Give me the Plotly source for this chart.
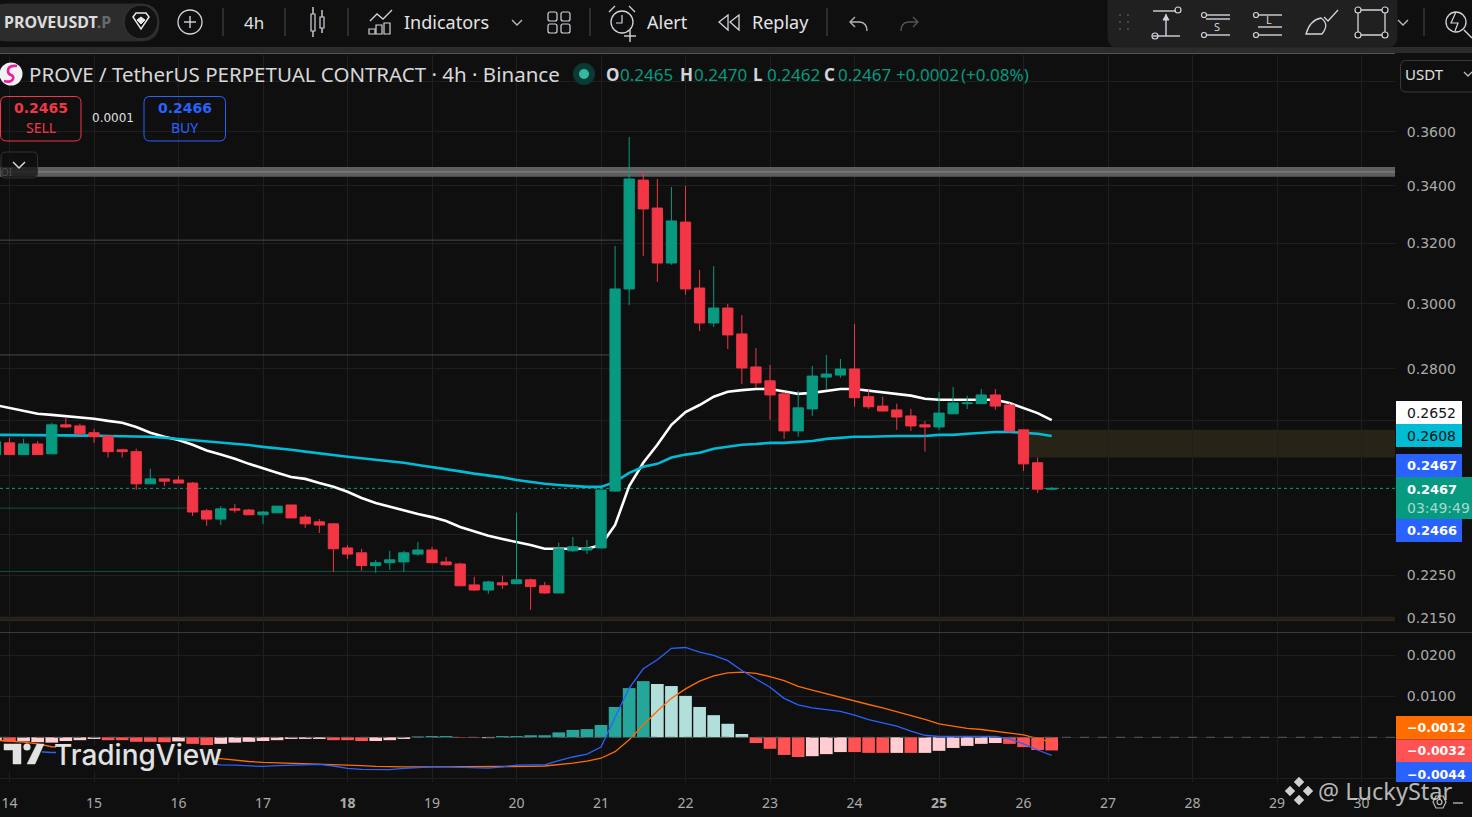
import re
import plotly.graph_objects as go

W, H = 1472, 817
BG = "#0f0f0f"
GRID = "#1f1f1f"
UP = "#089981"
DOWN = "#F23645"
FONT = "Noto Sans"
NUMF = "DejaVu Sans"

# ---------- data ----------
open_ = [.2557,.2589,.2557,.2586,.2559,.2639,.2636,.2617,.2608,.2570,.2565,.2479,.2492,.2489,.2481,.2409,.2388,.2414,.2411,.2399,.2404,.2424,
         .2393,.2381,.2376,.2316,.2304,.2273,.2280,.2282,.2301,.2311,.2282,.2277,.2227,.2215,.2232,.2230,.2239,.2225,.2208,.2309,.2311,.2316,
         .2460,.3048,.3421,.3321,.3133,.3272,.3051,.2940,.2987,.2906,.2806,.2765,.2727,.2622,.2684,.2776,.2782,.2800,.2719,.2692,.2681,.2664,
         .2639,.2633,.2670,.2699,.2699,.2724,.2695,.2625,.2535,.2465]
high = [.2592,.2603,.2600,.2594,.2645,.2659,.2642,.2628,.2608,.2573,.2573,.2519,.2492,.2500,.2484,.2414,.2421,.2427,.2414,.2409,.2421,.2424,
        .2399,.2388,.2378,.2323,.2314,.2287,.2309,.2309,.2331,.2319,.2294,.2280,.2246,.2237,.2249,.2404,.2242,.2234,.2329,.2343,.2336,.2463,
        .3190,.3581,.3454,.3425,.3396,.3400,.3110,.3123,.3000,.2965,.2863,.2812,.2733,.2736,.2809,.2842,.2830,.2937,.2738,.2719,.2699,.2684,
        .2650,.2733,.2747,.2722,.2741,.2741,.2701,.2625,.2549,.2470]
low = [.2557,.2557,.2557,.2557,.2559,.2630,.2611,.2589,.2549,.2549,.2463,.2479,.2473,.2481,.2396,.2371,.2373,.2404,.2399,.2376,.2404,.2391,
       .2366,.2353,.2258,.2289,.2261,.2256,.2263,.2258,.2297,.2280,.2273,.2225,.2213,.2206,.2218,.2230,.2169,.2206,.2208,.2306,.2301,.2316,
       .2458,.2996,.3156,.3071,.3127,.3029,.2915,.2927,.2860,.2756,.2744,.2653,.2600,.2606,.2664,.2741,.2774,.2690,.2684,.2678,.2625,.2622,
       .2565,.2625,.2670,.2684,.2699,.2681,.2617,.2513,.2455,.2462]
close = [.2592,.2557,.2586,.2557,.2639,.2633,.2614,.2606,.2565,.2565,.2479,.2492,.2486,.2481,.2406,.2388,.2414,.2411,.2399,.2406,.2421,.2391,
         .2376,.2373,.2314,.2301,.2273,.2280,.2287,.2304,.2311,.2280,.2275,.2225,.2215,.2234,.2227,.2239,.2223,.2208,.2314,.2319,.2316,.2463,
         .3048,.3425,.3318,.3133,.3276,.3048,.2940,.2987,.2903,.2803,.2759,.2724,.2622,.2687,.2779,.2785,.2800,.2716,.2690,.2678,.2661,.2636,
         .2633,.2672,.2701,.2701,.2724,.2692,.2622,.2532,.2465,.2467]
ema_white = [.2695,.2687,.2678,.2670,.2667,.2664,.2659,.2656,.2650,.2645,.2633,.2617,.2606,.2597,.2584,.2568,.2557,.2546,.2532,.2521,.2508,.2497,
             .2492,.2481,.2471,.2458,.2442,.2429,.2419,.2409,.2401,.2393,.2383,.2368,.2356,.2346,.2338,.2331,.2323,.2314,.2314,.2314,.2314,.2323,
             .2373,.2473,.2535,.2584,.2639,.2675,.2695,.2719,.2733,.2738,.2741,.2741,.2733,.2727,.2730,.2736,.2741,.2741,.2736,.2733,.2727,.2722,
             .2713,.2710,.2710,.2710,.2710,.2710,.2701,.2687,.2672,.2652]
ema_cyan = [.2611,.2611,.2611,.2611,.2611,.2611,.2610,.2609,.2608,.2608,.2608,.2606,.2603,.2600,.2597,.2594,.2589,.2586,.2583,.2578,.2575,.2570,
            .2565,.2561,.2555,.2551,.2547,.2543,.2540,.2535,.2529,.2524,.2517,.2512,.2506,.2501,.2496,.2489,.2484,.2479,.2476,.2473,.2471,.2471,
            .2484,.2508,.2524,.2532,.2549,.2557,.2562,.2573,.2578,.2584,.2586,.2589,.2589,.2592,.2594,.2600,.2603,.2606,.2606,.2608,.2608,.2608,
            .2608,.2611,.2611,.2614,.2617,.2619,.2619,.2617,.2614,.2608]
macd_hist = [-.0009,-.0010,-.0010,-.0012,-.0013,-.0009,-.0007,-.0004,-.0007,-.0007,-.0011,-.0011,-.0012,-.0010,-.0016,-.0019,-.0016,-.0013,-.0011,
             -.0009,-.0007,-.0004,-.0004,-.0004,-.0007,-.0007,-.0009,-.0009,-.0007,-.0004,.0002,.0003,.0003,-.0001,-.0001,-.0002,.0003,.0003,.0005,
             .0005,.0012,.0018,.0020,.0030,.0074,.0120,.0137,.0130,.0125,.0101,.0074,.0054,.0033,.0008,-.0014,-.0028,-.0043,-.0048,-.0046,-.0041,
             -.0036,-.0036,-.0038,-.0038,-.0038,-.0038,-.0038,-.0033,-.0026,-.0021,-.0016,-.0014,-.0016,-.0024,-.0031,-.0032]
hist_kind = list("PRPPPPPPRRRRRPRRPPPPPPPPRRRPPPGGGRRPGGGGGGGGGGGLLLLLLLRRRRPPPRRRPRPPPPPPRRRR"[:76])
macd_blue = [-.0029,-.0031,-.0033,-.0035,-.0037,-.0037,-.0040,-.0043,-.0046,-.0049,-.0051,-.0054,-.0051,-.0055,-.0060,-.0064,-.0067,-.0068,-.0070,
             -.0071,-.0069,-.0068,-.0067,-.0066,-.0070,-.0076,-.0078,-.0079,-.0079,-.0076,-.0074,-.0072,-.0072,-.0073,-.0074,-.0075,-.0072,-.0068,
             -.0067,-.0067,-.0057,-.0048,-.0041,-.0024,.0049,.0120,.0167,.0189,.0217,.0219,.0208,.0200,.0187,.0163,.0142,.0122,.0095,.0079,.0072,
             .0067,.0063,.0054,.0043,.0035,.0027,.0015,.0005,.0002,.0002,.0002,.0003,.0002,-.0004,-.0016,-.0031,-.0044]
macd_orange = [-.0007,-.0009,-.0012,-.0016,-.0023,-.0024,-.0025,-.0027,-.0028,-.0029,-.0031,-.0034,-.0038,-.0042,-.0046,-.0049,-.0052,-.0056,-.0059,
               -.0061,-.0062,-.0063,-.0064,-.0065,-.0066,-.0067,-.0069,-.0071,-.0072,-.0072,-.0072,-.0072,-.0072,-.0072,-.0072,-.0072,-.0072,-.0072,
               -.0071,-.0070,-.0067,-.0063,-.0058,-.0051,-.0035,-.0006,.0030,.0064,.0095,.0118,.0137,.0150,.0157,.0159,.0156,.0148,.0138,.0124,.0115,
               .0106,.0097,.0089,.0080,.0072,.0063,.0054,.0044,.0033,.0027,.0022,.0019,.0015,.0011,.0006,-.0003,-.0012]
day_ticks = list(range(14, 31))
day_labels = ["14","15","16","17","<b>18</b>","19","20","21","22","23","24","<b>25</b>","26","27","28","29","30"]
price_ticks = [.38,.36,.34,.32,.30,.28,.265,.25,.235,.225,.215]
price_labels = ["","0.3600","0.3400","0.3200","0.3000","0.2800","","","","0.2250","0.2150"]
macd_ticks = [.02,.01,0,-.01]
macd_labels = ["0.0200","0.0100","",""]
last_price = .2467
resist_band = (.3433, .3469)
supply_zone = (.2549, .2625)
support_band = (.2143, .2153)
level_lines = [(.3210, 21.25, "#4a4a4a"), (.2842, 21.1, "#4a4a4a"), (.2416, 16.1, "#0e5048"), (.2259, 19.25, "#0e5048")]

candle_x = [14 + (i - 1) / 6 for i in range(len(open_))]
x_lo, x_hi = 13.8876, 30.396
price_lo, price_hi = -.67397, -.40824
macd_lo, macd_hi = -.0109, .02568

COL = {"R": "#FF5252", "P": "#FFCDD2", "G": "#26A69A", "L": "#B2DFDB"}
px_x = lambda x: x / W
px_y = lambda y: 1 - y / H

shapes, notes = [], []

def line(x0, y0, x1, y1, c="#d1d4dc", w=1.4, layer="above", dash=None):
    shapes.append(dict(type="line", xref="paper", yref="paper", x0=px_x(x0), y0=px_y(y0), x1=px_x(x1), y1=px_y(y1),
                       line=dict(color=c, width=w, dash=dash or "solid"), layer=layer))

def rect(x0, y0, x1, y1, fill, c=None, w=0, layer="above"):
    shapes.append(dict(type="rect", xref="paper", yref="paper", x0=px_x(x0), y0=px_y(y0), x1=px_x(x1), y1=px_y(y1),
                       fillcolor=fill, line=dict(color=c or "rgba(0,0,0,0)", width=w), layer=layer))

def circ(cx, cy, r, fill="rgba(0,0,0,0)", c=None, w=1.4):
    shapes.append(dict(type="circle", xref="paper", yref="paper", x0=px_x(cx - r), y0=px_y(cy - r), x1=px_x(cx + r), y1=px_y(cy + r),
                       fillcolor=fill, line=dict(color=c or "rgba(0,0,0,0)", width=w if c else 0), layer="above"))

def path(d, c="#d1d4dc", w=1.4, fill="rgba(0,0,0,0)"):
    toks = re.findall(r"[A-Za-z]|-?[\d.]+", d)
    out, isx = [], True
    for t in toks:
        if t.isalpha():
            out.append(t); isx = True
        else:
            v = float(t)
            out.append(f"{px_x(v):.5f}" if isx else f"{px_y(v):.5f}")
            isx = not isx
    shapes.append(dict(type="path", xref="paper", yref="paper", path=" ".join(out), fillcolor=fill,
                       line=dict(color=c, width=w), layer="above"))

def rrect(x0, y0, x1, y1, r, c, w=1, fill="rgba(0,0,0,0)"):
    path(f"M {x0+r} {y0} L {x1-r} {y0} Q {x1} {y0} {x1} {y0+r} L {x1} {y1-r} Q {x1} {y1} {x1-r} {y1} "
         f"L {x0+r} {y1} Q {x0} {y1} {x0} {y1-r} L {x0} {y0+r} Q {x0} {y0} {x0+r} {y0} Z", c, w, fill)

def txt(x, y, s, size=14, c="#d1d4dc", anchor="left", font=FONT, weight="normal"):
    notes.append(dict(xref="paper", yref="paper", x=px_x(x), y=px_y(y), text=s, showarrow=False, xanchor=anchor, yanchor="middle",
                      font=dict(size=size, color=c, family=font, weight=weight), borderpad=0, borderwidth=0))

# ---------- price-level drawings (on the axes) ----------
def band(lo, hi, x0, x1, fill, layer="below"):
    shapes.append(dict(type="rect", xref="x", yref="y", x0=x0, x1=x1, y0=lo, y1=hi, fillcolor=fill, line=dict(width=0), layer=layer))

band(*resist_band, x_lo, x_hi, "#5e5e5e", "between")
shapes.append(dict(type="line", xref="x", yref="y", x0=x_lo, x1=x_hi, y0=.3451, y1=.3451, line=dict(color="#8a8a8a", width=1), layer="between"))
band(*supply_zone, 26.05, x_hi, "#282317")
band(*support_band, x_lo, x_hi, "#2a2518")
for val, end, colr in level_lines:
    shapes.append(dict(type="line", xref="x", yref="y", x0=x_lo, x1=end, y0=val, y1=val, line=dict(color=colr, width=1), layer="between"))
shapes.append(dict(type="line", xref="x", yref="y", x0=x_lo, x1=x_hi, y0=last_price, y1=last_price,
                   line=dict(color=UP, width=1, dash="dot"), layer="between"))
shapes.append(dict(type="line", xref="x2", yref="y2", x0=x_lo, x1=x_hi, y0=0, y1=0, line=dict(color="#5a5a5a", width=1, dash="dash"), layer="above"))

# ---------- chrome ----------
rect(0, 47, W, 53, "#2b2b2b")
line(0, 53.5, 1395, 53.5, "#555555", 1)
line(0, 632.5, W, 632.5, "#3a3a3a", 1)
rrect(-12, 4, 159, 41, 18, "#2c2c2c", 1, "#2c2c2c")
circ(141, 22, 17, "#121212", "#3a3a3a", 1)
path("M 133 17 L 136 13 L 146 13 L 149 17 L 141 29 Z", "#e8e8e8", 1.5)
path("M 141 17 L 145 20 L 141 24 L 137 20 Z", "#e8e8e8", 1, "#e8e8e8")
txt(4, 22, "<b>PROVEUSDT</b><span style='color:#6a6a6a'><b>.P</b></span>", 16, "#dcdcdc")
circ(190, 22, 12, c="#d1d4dc", w=1.3)
line(184, 22, 196, 22); line(190, 16, 190, 28)
for sx in (223, 285, 348, 590, 827):
    line(sx, 8, sx, 36, "#3f3f3f", 1.3)
txt(254, 22, "4h", 17, "#e0e0e0", "center")
rect(311, 14, 315, 31, "rgba(0,0,0,0)", "#d1d4dc", 1.2); line(313, 7, 313, 14); line(313, 31, 313, 37)
rect(320, 17, 324, 28, "rgba(0,0,0,0)", "#d1d4dc", 1.2); line(322, 10, 322, 17); line(322, 28, 322, 33)
path("M 370 21 L 377 14 L 383 19 L 392 10", "#d1d4dc", 1.3)
for bx, by in ((369, 29), (376, 25), (384, 23)):
    rect(bx, by, bx + 6, 34, "rgba(0,0,0,0)", "#d1d4dc", 1.2)
txt(404, 22, "Indicators", 18, "#e4e4e4")
path("M 512 20 L 517 25 L 522 20", "#bdbdbd", 1.3)
for qx, qy in ((548, 12), (561, 12), (548, 24), (561, 24)):
    rrect(qx, qy, qx + 9, qy + 9, 2, "#d1d4dc", 1.2)
circ(622, 22, 11, c="#d1d4dc", w=1.3)
path("M 622 15 L 622 23 L 616 23", "#d1d4dc", 1.2)
path("M 609 12 L 615 6", "#d1d4dc", 1.2); path("M 635 12 L 629 6", "#d1d4dc", 1.2)
line(630, 30, 630, 42); line(624, 36, 636, 36)
txt(647, 22, "Alert", 18, "#e4e4e4")
path("M 728 15 L 719 22 L 728 30 Z", "#d1d4dc", 1.3); path("M 739 15 L 730 22 L 739 30 Z", "#d1d4dc", 1.3)
txt(752, 22, "Replay", 18, "#e4e4e4")
path("M 855 17 L 850 22 L 855 27", "#b5b5b5", 1.4); path("M 850 22 L 860 22 Q 867 23 867 31", "#b5b5b5", 1.4)
path("M 913 17 L 918 22 L 913 27", "#555555", 1.4); path("M 918 22 L 908 22 Q 901 23 901 31", "#555555", 1.4)
rrect(1108, -10, 1397, 47, 10, "#202020", 1, "#202020")
for gy in (15, 22, 29):
    line(1119, gy, 1121, gy, "#555555", 1.5); line(1127, gy, 1129, gy, "#555555", 1.5)
line(1153, 11, 1176, 11); circ(1178, 10, 3, c="#d1d4dc", w=1.2); line(1153, 36, 1180, 36); circ(1155, 36, 3, c="#d1d4dc", w=1.2)
line(1166, 14, 1166, 36); path("M 1163 20 L 1166 15 L 1169 20 Z", "#d1d4dc", 1, "#d1d4dc")
for lx in (1204, 1256):
    line(lx + 3, 15, lx + 26, 15); circ(lx, 15, 2.5, c="#d1d4dc", w=1.2)
    line(lx + 3, 35, lx + 26, 35); circ(lx, 35, 2.5, c="#d1d4dc", w=1.2)
line(1206, 19, 1230, 19); line(1258, 27, 1282, 27)
txt(1217, 27, "S", 11, "#d1d4dc", "center"); txt(1269, 20, "L", 11, "#d1d4dc", "center")
path("M 1306 34 Q 1310 20 1321 18 Q 1330 24 1322 34 Z", "#d1d4dc", 1.3)
path("M 1324 17 L 1328 21 L 1338 10", "#d1d4dc", 1.3)
rect(1358, 10, 1385, 35, "rgba(0,0,0,0)", "#d1d4dc", 1.3)
for cx_, cy_ in ((1358, 10), (1385, 10), (1358, 35), (1385, 35)):
    circ(cx_, cy_, 3, BG, "#d1d4dc", 1.2)
path("M 1398 20 L 1403 25 L 1408 20", "#bdbdbd", 1.3)
line(1424, 8, 1424, 36, "#3f3f3f", 1.2)
circ(1456, 22, 10, c="#d1d4dc", w=1.3); path("M 1456 12 L 1451 23 L 1458 23 L 1455 31", "#d1d4dc", 1.2); line(1464, 30, 1472, 38)

circ(11, 74, 11.5, "#f2f2f2")
path("M 17 66 Q 8 65 8 71 Q 8 74 11 75 Q 14 76 13 79 Q 11 83 4 81", "#e91e9c", 2.6)
txt(29, 74, "PROVE / TetherUS PERPETUAL CONTRACT · 4h · Binance", 20.5, "#d8d8d8")
circ(584, 74, 11, "#0b3a34"); circ(584, 74, 5, "#35b8a0")
for lx, s, dx in ((606, "O", "0.2465"), (680, "H", "0.2470"), (753, "L", "0.2462"), (824, "C", "0.2467")):
    txt(lx, 74, f"<b>{s}</b>", 17, "#d1d4dc"); txt(lx + 14, 74, dx, 17, UP)
txt(896, 74, "+0.0002", 17, UP); txt(961, 74, "(+0.08%)", 17, UP)
rrect(0.5, 96.5, 81, 141, 6, DOWN, 1); txt(41, 108, "<b>0.2465</b>", 14, DOWN, "center", NUMF); txt(41, 128, "SELL", 14, DOWN, "center")
rrect(144, 96.5, 225.5, 141, 6, "#2962FF", 1); txt(185, 108, "<b>0.2466</b>", 14, "#2962FF", "center", NUMF); txt(185, 128, "BUY", 14, "#2962FF", "center")
txt(113, 118, "0.0001", 12, "#e0e0e0", "center", NUMF)
rrect(1400.5, 60.5, 1480, 92, 6, "#3a3a3a", 1)
txt(1405, 74, "USDT", 15, "#e0e0e0")
path("M 1464 72 L 1468 76 L 1472 72", "#bdbdbd", 1.3)
rrect(1, 152, 37.5, 178, 5, "#333333", 1, "rgba(15,15,15,0.72)")
path("M 13 162 L 19 168 L 25 162", "#d8d8d8", 1.5)
txt(1, 172, "OI", 10, "#4c4c4c")

# price tags
tags = [(401, 424, "#FFFFFF", "0.2652", "#131313", 1462, 14, False), (424, 447, "#00BCD4", "0.2608", "#131313", 1462, 14, False),
        (454, 477, "#2962FF", "0.2467", "#FFFFFF", 1462, 13, True), (477, 519, UP, "0.2467", "#FFFFFF", 1472, 13, True),
        (519, 542, "#2962FF", "0.2466", "#FFFFFF", 1462, 13, True), (716, 739.5, "#FF6D00", "−0.0012", "#FFFFFF", 1472, 12.5, True),
        (739.5, 762, "#FF5252", "−0.0032", "#FFFFFF", 1472, 12.5, True), (762, 782, "#2962FF", "−0.0044", "#FFFFFF", 1472, 12.5, True)]
for y0, y1, fill, s, fc, xr, fs, bold in tags:
    rect(1396, y0, xr, y1, fill)
    ty = 489.5 if s == "0.2467" and fill == UP else (774 if s == "−0.0044" else (y0 + y1) / 2)
    txt(1407, ty, f"<b>{s}</b>" if bold else s, fs, fc, font=NUMF)
txt(1407, 508, "03:49:49", 14, "#a8d8cc", font=NUMF)

# watermark (the mark hides the indicator lines behind it)
rect(0, 746, 42, 772, BG)
rect(56, 746, 216, 772, BG)
path("M 4 744 L 21 744 L 21 764 L 13 764 L 13 750 L 4 750 Z", "#e2e2e2", 0.5, "#e2e2e2")
circ(27, 747, 3.6, "#e2e2e2")
path("M 37 744 L 44 744 L 35 764 L 27 764 Z", "#e2e2e2", 0.5, "#e2e2e2")
txt(54, 755, "TradingView", 28, "#e2e2e2", font="Inter", weight=500)
for dx_, dy_ in ((0, -9), (0, 9), (-9, 0), (9, 0)):
    sz = 5
    path(f"M {1299+dx_} {791+dy_-sz} L {1299+dx_+sz} {791+dy_} L {1299+dx_} {791+dy_+sz} L {1299+dx_-sz} {791+dy_} Z", "#d0d0d0", 0.4, "#d0d0d0")
txt(1318, 791, "@ LuckyStar", 23.5, "rgba(215,215,215,0.85)")
path("M 1433 802 L 1436 796 L 1443 796 L 1446 802 L 1443 808 L 1436 808 Z", "#bdbdbd", 1.2)
circ(1439.5, 802, 2.5, c="#bdbdbd", w=1.2)
line(1453, 803, 1463, 803, "#bdbdbd", 1.3)

# ---------- traces ----------
fig = go.Figure()
fig.add_trace(go.Scatter(x=candle_x, y=ema_white, mode="lines", line=dict(color="#FFFFFF", width=2.6), xaxis="x", yaxis="y", hoverinfo="skip"))
fig.add_trace(go.Scatter(x=candle_x, y=ema_cyan, mode="lines", line=dict(color="#00BCD4", width=2.6), xaxis="x", yaxis="y", hoverinfo="skip"))
fig.add_trace(go.Candlestick(x=candle_x, open=open_, high=high, low=low, close=close, xaxis="x3", yaxis="y3", whiskerwidth=0,
                             increasing=dict(line=dict(color=UP, width=1), fillcolor=UP),
                             decreasing=dict(line=dict(color=DOWN, width=1), fillcolor=DOWN), hoverinfo="skip"))
fig.add_trace(go.Bar(x=candle_x, y=macd_hist, marker=dict(color=[COL[k] for k in hist_kind], line=dict(width=0)), xaxis="x2", yaxis="y2", hoverinfo="skip"))
fig.add_trace(go.Scatter(x=candle_x, y=macd_orange, mode="lines", line=dict(color="#FF6D00", width=1.3), xaxis="x2", yaxis="y2", hoverinfo="skip"))
fig.add_trace(go.Scatter(x=candle_x, y=macd_blue, mode="lines", line=dict(color="#2962FF", width=1.3), xaxis="x2", yaxis="y2", hoverinfo="skip"))

xdom = [0, 1395 / W]
ax_x = dict(domain=xdom, range=[x_lo, x_hi], tickmode="array", tickvals=day_ticks, showgrid=True, gridcolor=GRID, gridwidth=1,
            zeroline=False, showline=False)
y_common = dict(side="right", showline=False, zeroline=False, gridcolor=GRID, gridwidth=1, showgrid=True, ticks="outside", ticklen=8,
                tickcolor="rgba(0,0,0,0)", tickfont=dict(size=14, color="#ababab", family=NUMF), tickmode="array")
fig.update_layout(
    width=W, height=H, autosize=False, margin=dict(l=0, r=0, t=0, b=0), paper_bgcolor=BG, plot_bgcolor=BG, showlegend=False,
    bargap=0.1, boxgap=0.27, boxgroupgap=0, hovermode=False, dragmode=False,
    xaxis=dict(ax_x, anchor="y", ticks="", showticklabels=False, rangeslider=dict(visible=False)),
    xaxis3=dict(ax_x, anchor="y3", overlaying="x", showgrid=False, ticks="", showticklabels=False, rangeslider=dict(visible=False)),
    xaxis2=dict(ax_x, anchor="y2", ticktext=day_labels, ticks="outside", ticklen=8, tickcolor="rgba(0,0,0,0)",
                tickfont=dict(size=14, color="#ababab", family=FONT)),
    yaxis=dict(y_common, type="log", domain=[1 - 632 / H, 1 - 55 / H], range=[price_lo, price_hi], anchor="x", tickvals=price_ticks, ticktext=price_labels),
    yaxis3=dict(type="log", domain=[1 - 632 / H, 1 - 55 / H], range=[price_lo, price_hi], anchor="x3", overlaying="y", side="right",
                showgrid=False, showticklabels=False, ticks="", zeroline=False),
    yaxis2=dict(y_common, domain=[1 - 782 / H, 1 - 632 / H], range=[macd_lo, macd_hi], anchor="x2", tickvals=macd_ticks, ticktext=macd_labels),
    shapes=shapes, annotations=notes,
)
fig.write_html("out.html", config=dict(displayModeBar=False, staticPlot=True),
               post_script="document.body.style.margin='0';document.body.style.overflow='hidden';")
